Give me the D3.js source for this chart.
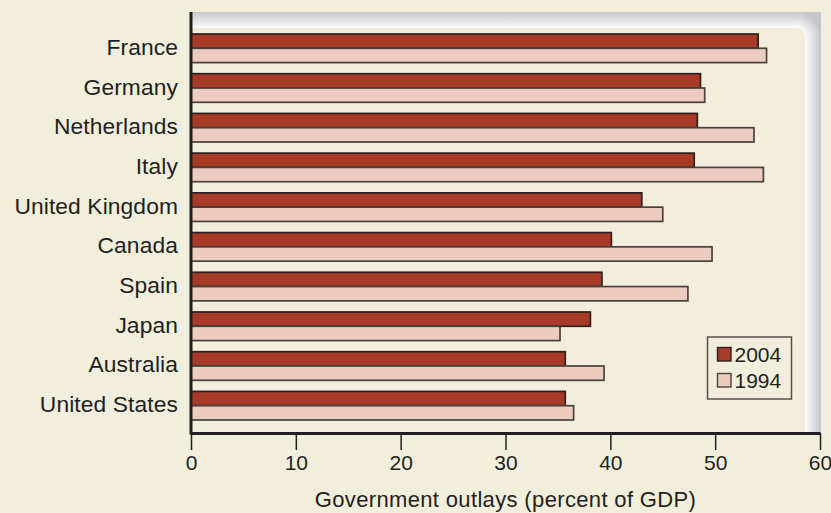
<!DOCTYPE html>
<html><head><meta charset="utf-8">
<script src="https://cdn.jsdelivr.net/npm/d3@7"></script>
<style>
body{margin:0;background:#f1eedc;}
svg{display:block;font-family:"Liberation Sans",Arial,sans-serif;}
</style>
</head><body><svg id="c" width="831" height="513"></svg>
<script>
const countries = ["France","Germany","Netherlands","Italy","United Kingdom","Canada","Spain","Japan","Australia","United States"];
const values2004 = [54.1,48.6,48.3,48.0,43.0,40.1,39.2,38.1,35.7,35.7];
const values1994 = [54.9,49.0,53.7,54.6,45.0,49.7,47.4,35.2,39.4,36.5];
const seriesNames = ["2004","1994"];
const xTicks = [0,10,20,30,40,50,60];
const axisTitle = "Government outlays (percent of GDP)";

(function(){
const BG = "#f1eedc", INK = "#231f20";
const FONT = "Liberation Sans, Arial, sans-serif";
const colors = {"2004":"#a83a28","1994":"#ecccc0"};
const strokes = {"2004":"#2b221f","1994":"#4a413d"};

const svg = d3.select("#c");
svg.append("rect").attr("width",831).attr("height",513).attr("fill",BG);

const pL = 191, pR = 820, pT = 12, pB = 433;
const x = d3.scaleLinear().domain([0,60]).range([pL,pR]);
const y = d3.scaleBand().domain(countries).range([28,426]).paddingInner(0.28).paddingOuter(0.151);
const ys = d3.scaleBand().domain(seriesNames).range([0,y.bandwidth()]);

// frame gradients
const defs = svg.append("defs");
const gTop = defs.append("linearGradient").attr("id","gTop").attr("x1",0).attr("y1",0).attr("x2",0).attr("y2",1);
gTop.append("stop").attr("offset",0).attr("stop-color","#c6c7cb");
gTop.append("stop").attr("offset",1).attr("stop-color","#fcfcfc");
const gRight = defs.append("linearGradient").attr("id","gRight").attr("x1",0).attr("y1",0).attr("x2",1).attr("y2",0);
gRight.append("stop").attr("offset",0).attr("stop-color","#fcfcfc");
gRight.append("stop").attr("offset",1).attr("stop-color","#c6c7cb");
const gCorner = defs.append("radialGradient").attr("id","gCorner").attr("gradientUnits","userSpaceOnUse")
  .attr("cx",795).attr("cy",38).attr("r",26);
gCorner.append("stop").attr("offset",0).attr("stop-color",BG);
gCorner.append("stop").attr("offset",0.38).attr("stop-color",BG);
gCorner.append("stop").attr("offset",0.40).attr("stop-color","#fcfcfc");
gCorner.append("stop").attr("offset",1).attr("stop-color","#c6c7cb");

svg.append("rect").attr("x",pL).attr("y",pT).attr("width",795-pL).attr("height",16).attr("fill","url(#gTop)");
svg.append("rect").attr("x",795).attr("y",pT).attr("width",26).attr("height",26).attr("fill","url(#gCorner)");
svg.append("rect").attr("x",805).attr("y",38).attr("width",16).attr("height",pB-38).attr("fill","url(#gRight)");

// bars
const data = countries.map((c,i)=>({country:c, vals:[{s:"2004",v:values2004[i]},{s:"1994",v:values1994[i]}]}));
const groups = svg.append("g").selectAll("g").data(data).join("g")
  .attr("transform",d=>`translate(0,${y(d.country)})`);
groups.selectAll("rect").data(d=>d.vals).join("rect")
  .attr("x",x(0)).attr("y",d=>ys(d.s)).attr("width",d=>x(d.v)-x(0)).attr("height",ys.bandwidth())
  .attr("fill",d=>colors[d.s]).attr("stroke",d=>strokes[d.s]).attr("stroke-width",1.7);

// category labels
svg.append("g").selectAll("text").data(countries).join("text")
  .attr("x",178).attr("y",d=>y(d)+y.bandwidth()/2+6.5)
  .attr("text-anchor","end").attr("font-size",22.8).attr("letter-spacing",0.1).attr("fill",INK).text(d=>d);

// x axis
const xAxis = svg.append("g").attr("transform",`translate(0,${pB})`)
  .call(d3.axisBottom(x).tickValues(xTicks).tickSize(17).tickSizeOuter(0).tickPadding(5));
xAxis.select(".domain").attr("stroke",INK).attr("stroke-width",3);
xAxis.selectAll(".tick line").attr("stroke",INK).attr("stroke-width",1.5);
xAxis.selectAll(".tick text").attr("font-size",21).attr("fill",INK).attr("font-family",FONT);

// y axis line
svg.append("line").attr("x1",pL).attr("x2",pL).attr("y1",pT).attr("y2",pB+1.5)
  .attr("stroke",INK).attr("stroke-width",3);

// axis title
svg.append("text").attr("x",(pL+pR)/2).attr("y",507).attr("text-anchor","middle")
  .attr("font-size",22).attr("letter-spacing",0.35).attr("fill",INK).text(axisTitle);

// legend
const lg = svg.append("g");
lg.append("rect").attr("x",707.5).attr("y",337).attr("width",84).attr("height",62)
  .attr("fill","none").attr("stroke","#555049").attr("stroke-width",1.5);
seriesNames.forEach((s,i)=>{
  lg.append("rect").attr("x",717.5).attr("y",347.5+i*26).attr("width",13.5).attr("height",13.5)
    .attr("fill",colors[s]).attr("stroke",strokes[s]).attr("stroke-width",1.4);
  lg.append("text").attr("x",734.5).attr("y",362+i*26).attr("font-size",21).attr("fill",INK).text(s);
});
})();
</script>
</body></html>
